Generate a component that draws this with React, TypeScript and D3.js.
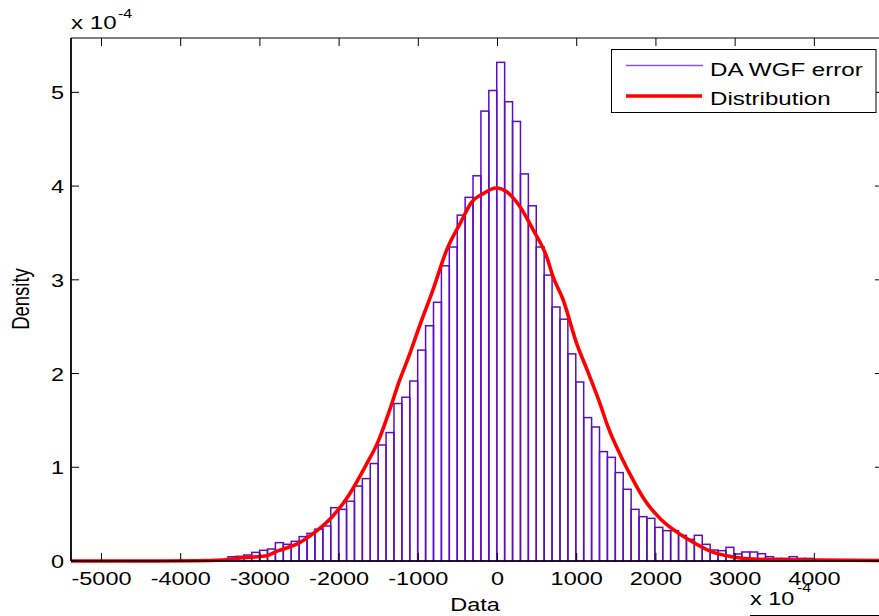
import React from "react";
import * as d3 from "d3";

const W = 879;
const H = 616;

const xTicks = [-5000, -4000, -3000, -2000, -1000, 0, 1000, 2000, 3000, 4000];
const yTicks = [0, 1, 2, 3, 4, 5];

const binStart = -3403;
const binWidth = 99.8;
// density in units of 1e-4
const binDensity = [
  0.045, 0.05, 0.064, 0.092, 0.114, 0.128, 0.196, 0.178, 0.21, 0.26,
  0.295, 0.34, 0.374, 0.569, 0.551, 0.637, 0.8, 0.879, 1.04, 1.238,
  1.37, 1.68, 1.747, 1.92, 2.25, 2.51, 2.76, 3.15, 3.35, 3.69,
  3.88, 4.11, 4.8, 5.02, 5.32, 4.9, 4.69, 4.13, 3.79, 3.35,
  3.05, 2.71, 2.58, 2.21, 1.91, 1.53, 1.43, 1.167, 1.106, 0.943,
  0.765, 0.551, 0.473, 0.455, 0.359, 0.324, 0.324, 0.274, 0.231, 0.274,
  0.178, 0.117, 0.11, 0.146, 0.075, 0.096, 0.096, 0.078, 0.046, 0.028,
  0.028, 0.046, 0.028, 0.028,
];

const curveX = [
  -5385, -4500, -3800, -3478, -3226, -2936, -2767, -2510, -2300, -2090,
  -1879, -1669, -1500, -1374, -1248, -1121, -979, -816, -641, -473,
  -326, -181, -19, 116, 284, 452, 619, 703, 827, 1000,
  1140, 1294, 1395, 1563, 1689, 1858, 2068, 2279, 2490, 2700,
  2952, 3289, 4047, 4867,
];
const curveY = [
  0, 0, 0.003, 0.01, 0.035, 0.053, 0.11, 0.19, 0.31, 0.47,
  0.7, 1.01, 1.29, 1.58, 1.9, 2.18, 2.52, 2.89, 3.32, 3.6,
  3.83, 3.92, 3.98, 3.94, 3.78, 3.53, 3.25, 3.03, 2.79, 2.32,
  2.02, 1.68, 1.43, 1.11, 0.9, 0.65, 0.44, 0.3, 0.19, 0.1,
  0.046, 0.018, 0.01, 0.005,
];

const legendLabels = ["DA WGF error", "Distribution"];

const FONT = "'Liberation Sans', Arial, Helvetica, sans-serif";
const SX = 1.27;
const PURPLE = "#5c0fc0";

export default function App() {
  const left = 71, right = 883, top = 38, bottom = 561;
  const x = d3.scaleLinear().domain([-5385, 4867]).range([left, right]);
  const y = d3.scaleLinear().domain([0, 5.58]).range([bottom, top]);

  const pts = curveX.map((cx, i) => [x(cx), y(curveY[i])] as [number, number]);
  const linePath = d3.line().curve(d3.curveMonotoneX)(pts) || "";

  return (
    <svg width={W} height={H} style={{ position: "absolute", left: 0, top: 0, background: "#fff" }}
      fontFamily={FONT}>
      <rect x={0} y={0} width={W} height={H} fill="#fff" />
      {/* bars */}
      <g>
        {binDensity.map((d, i) => {
          const x0 = binStart + i * binWidth;
          const x1 = x0 + binWidth;
          return (
            <rect key={i} x={x(x0)} y={y(d)} width={x(x1) - x(x0)} height={y(0) - y(d)}
              fill="none" stroke={PURPLE} strokeWidth={1.5} />
          );
        })}
      </g>
      {/* curve */}
      <path d={linePath} fill="none" stroke="#ff0000" strokeWidth={3.6} strokeLinejoin="round" />
      {/* frame */}
      <line x1={left} x2={right} y1={top} y2={top} stroke="#000" strokeWidth={1} />
      <line x1={left} x2={right} y1={bottom} y2={bottom} stroke="#000" strokeWidth={1.5} />
      <line x1={left} x2={left} y1={top} y2={bottom} stroke="#000" strokeWidth={1.8} />
      <line x1={right} x2={right} y1={top} y2={bottom} stroke="#000" strokeWidth={1} />
      {/* x ticks */}
      {xTicks.map((t) => (
        <g key={t}>
          <line x1={x(t)} x2={x(t)} y1={bottom} y2={bottom - 8} stroke="#000" strokeWidth={1} />
          <line x1={x(t)} x2={x(t)} y1={top} y2={top + 8} stroke="#000" strokeWidth={1} />
          <text transform={`translate(${x(t)},585) scale(${SX},1)`} textAnchor="middle" fontSize={18.5} fill="#000">
            {t}
          </text>
        </g>
      ))}
      {/* y ticks */}
      {yTicks.map((t) => (
        <g key={t}>
          <line x1={left} x2={left + 8} y1={y(t)} y2={y(t)} stroke="#000" strokeWidth={1} />
          <line x1={right} x2={right - 8} y1={y(t)} y2={y(t)} stroke="#000" strokeWidth={1} />
          <text transform={`translate(64,${y(t) + 7}) scale(${SX},1)`} textAnchor="end" fontSize={18.5} fill="#000">
            {t}
          </text>
        </g>
      ))}
      {/* exponent top-left */}
      <text transform={`translate(71,29) scale(${SX},1)`} fontSize={19} fill="#000">x 10</text>
      <text transform={`translate(118,18) scale(${SX},1)`} fontSize={12.5} fill="#000">-4</text>
      {/* axis labels */}
      <text transform={`translate(475,610.5) scale(${SX},1)`} textAnchor="middle" fontSize={18.5} fill="#000">Data</text>
      <text transform={`translate(29,299) scale(${SX},1) rotate(-90)`} textAnchor="middle" fontSize={18.5} fill="#000">Density</text>
      {/* legend */}
      <rect x={611.5} y={49.5} width={264.5} height={63} fill="#fff" stroke="#000" strokeWidth={1} />
      <line x1={626} x2={703} y1={65.5} y2={65.5} stroke="#8a55d8" strokeWidth={1.3} />
      <line x1={626} x2={702} y1={96} y2={96} stroke="#ff0000" strokeWidth={3.6} />
      <text transform={`translate(710,75.5) scale(${SX},1)`} fontSize={19} fill="#000">{legendLabels[0]}</text>
      <text transform={`translate(710,104.5) scale(${SX},1)`} fontSize={19} fill="#000">{legendLabels[1]}</text>
      {/* next subplot fragment */}
      <text transform={`translate(750,605) scale(${SX},1)`} fontSize={18.5} fill="#000">x 10</text>
      <text transform={`translate(797,592) scale(${SX},1)`} fontSize={12.5} fill="#000">-4</text>
      <line x1={750} x2={W} y1={615.5} y2={615.5} stroke="#000" strokeWidth={1} />
    </svg>
  );
}
